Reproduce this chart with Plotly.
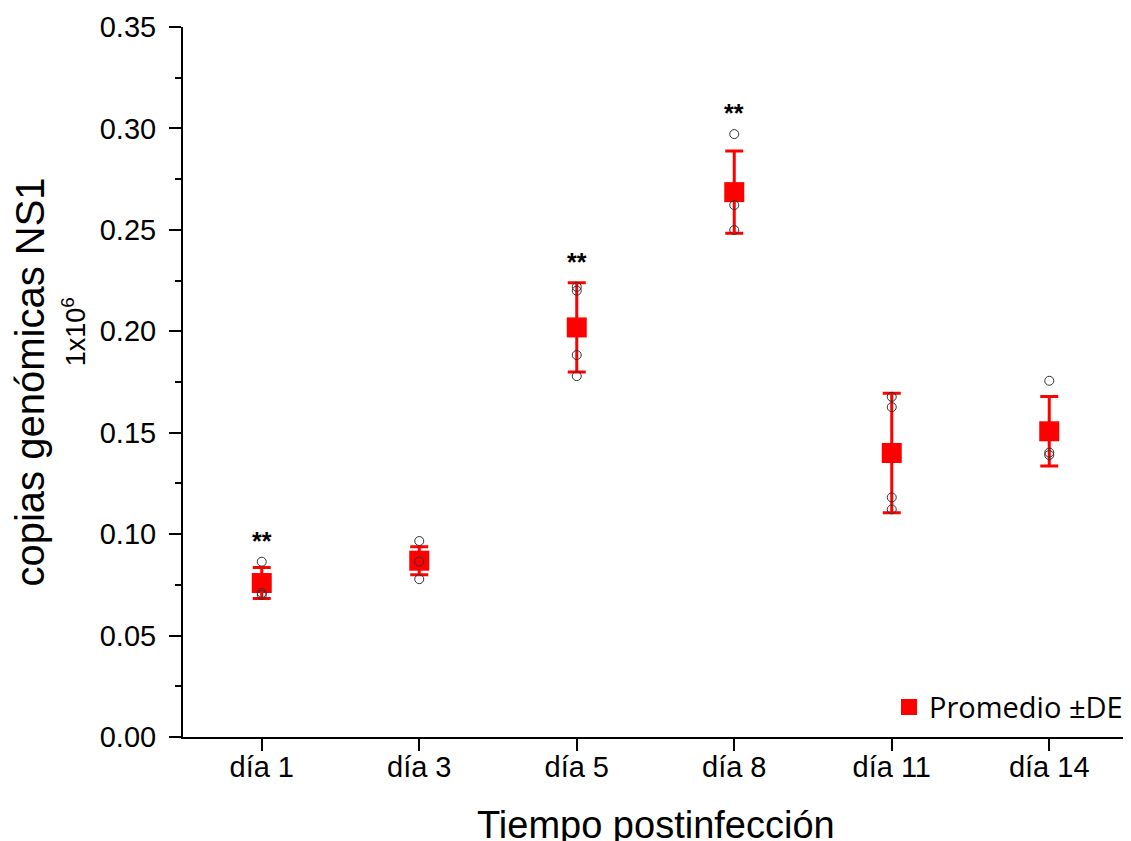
import plotly.graph_objects as go

# ---- data ----
categories = ["día 1", "día 3", "día 5", "día 8", "día 11", "día 14"]
mean_values = [0.0759, 0.0869, 0.2019, 0.2686, 0.1400, 0.1507]
sd_values = [0.0076, 0.0069, 0.0220, 0.0203, 0.0294, 0.0171]
# individual replicate values per day
replicates = {
    "día 1": [0.0864, 0.0700, 0.0710],
    "día 3": [0.0966, 0.0778, 0.0865],
    "día 5": [0.2219, 0.2200, 0.1883, 0.1779],
    "día 8": [0.2972, 0.2622, 0.2499],
    "día 11": [0.1677, 0.1626, 0.1181, 0.1122],
    "día 14": [0.1756, 0.1402, 0.1390],
}
significance = ["**", "", "**", "**", "", ""]
y_ticks = [0.00, 0.05, 0.10, 0.15, 0.20, 0.25, 0.30, 0.35]

RED = "#ff0000"
FONT = "Liberation Sans, Arial, sans-serif"

fig = go.Figure()

fig.add_trace(go.Scatter(
    x=categories, y=mean_values, mode="markers",
    name="Promedio ±DE",
    marker=dict(symbol="square", size=20, color=RED, line=dict(width=0)),
    error_y=dict(type="data", array=sd_values, visible=True,
                 color=RED, thickness=3, width=9),
))

px_x, px_y = [], []
for c in categories:
    for v in replicates[c]:
        px_x.append(c)
        px_y.append(v)
fig.add_trace(go.Scatter(
    x=px_x, y=px_y, mode="markers", showlegend=False,
    marker=dict(symbol="circle-open", size=9, color="#333333",
                line=dict(width=1, color="#333333")),
))

annotations = []
for c, m, s, sig in zip(categories, mean_values, sd_values, significance):
    if sig:
        top = max(max(replicates[c]), m + s)
        annotations.append(dict(
            x=c, y=top, xref="x", yref="y", text="<b>" + sig + "</b>",
            showarrow=False, yanchor="middle", yshift=21,
            font=dict(family=FONT, size=25, color="black")))

annotations.append(dict(
    x=0, y=0.57, xref="paper", yref="paper", xshift=-109,
    text="1x10<sup>6</sup>", textangle=-90, showarrow=False,
    xanchor="center", yanchor="middle",
    font=dict(family=FONT, size=27, color="black")))

# x-axis title (placed so that it is partly cut by the page bottom, as in the reference)
annotations.append(dict(
    x=0.5, y=0, xref="paper", yref="paper", yshift=-65,
    text="Tiempo postinfección", showarrow=False,
    xanchor="center", yanchor="top",
    font=dict(family=FONT, size=38, color="black")))

# the page adds an 8px body margin, so the figure is offset by 8px
fig.update_layout(
    width=1123, height=833,
    margin=dict(l=175, r=3, t=19, b=104, autoexpand=False),
    paper_bgcolor="white", plot_bgcolor="white",
    font=dict(family=FONT, color="black"),
    showlegend=True,
    legend=dict(x=1.0, y=0.006, xanchor="right", yanchor="bottom",
                bgcolor="rgba(0,0,0,0)",
                font=dict(family="Open Sans, sans-serif", size=29, color="black"),
                itemwidth=30, tracegroupgap=0),
    annotations=annotations,
)

fig.update_xaxes(
    type="category", range=[-0.5, 5.5], automargin=False,
    showline=True, linecolor="black", linewidth=2,
    ticks="outside", ticklen=12, tickwidth=2, tickcolor="black",
    ticklabelstandoff=-9,
    showgrid=False, zeroline=False,
    tickfont=dict(family=FONT, size=29, color="black"),
)
fig.update_yaxes(
    range=[0, 0.35], tickvals=y_ticks, automargin=False,
    ticktext=[f"{t:.2f}" for t in y_ticks],
    showline=True, linecolor="black", linewidth=2,
    ticks="outside", ticklen=12, tickwidth=2, tickcolor="black",
    ticklabelstandoff=7,
    minor=dict(dtick=0.025, ticks="outside", ticklen=6, tickwidth=2,
               tickcolor="black", showgrid=False),
    showgrid=False, zeroline=False,
    tickfont=dict(family=FONT, size=29, color="black"),
    title=dict(text="copias genómicas NS1", standoff=50,
               font=dict(family=FONT, size=40, color="black")),
)

fig.write_html("out.html")
